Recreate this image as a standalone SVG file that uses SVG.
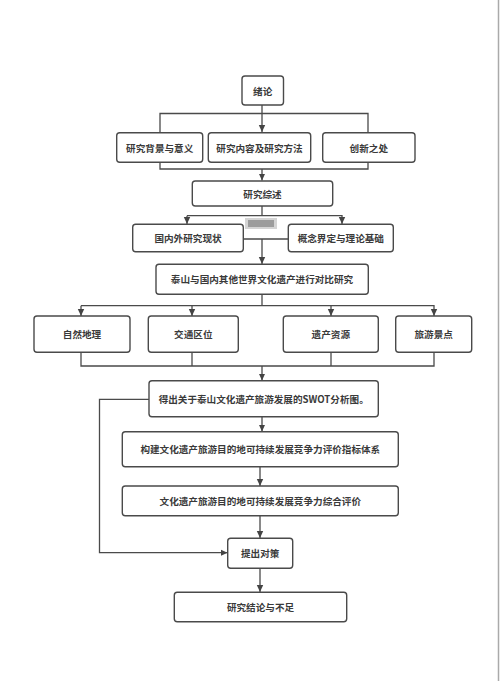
<svg xmlns="http://www.w3.org/2000/svg" width="500" height="681" viewBox="0 0 500 681">
<defs>
<marker id="ah" markerWidth="8" markerHeight="8" refX="7" refY="4" orient="auto" markerUnits="userSpaceOnUse">
<path d="M0,0.8 L7,4 L0,7.2 Z" fill="#444"/>
</marker>
<style>
.box{fill:#fff;stroke:#4a4a4a;stroke-width:1.4}
.t{font-family:"Noto Sans CJK SC","Noto Sans",sans-serif;font-size:9.6px;font-weight:bold;fill:#3a3a3a;text-anchor:middle;dominant-baseline:central}
.c{fill:none;stroke:#4a4a4a;stroke-width:1.3}
.a{marker-end:url(#ah)}
</style>
</defs>
<rect width="500" height="681" fill="#fff"/>
<line x1="498.5" y1="0" x2="498.5" y2="681" stroke="#aaa" stroke-width="1.5"/>
<g id="connectors">
<path class="c a" d="M262,105 V132"/>
<path class="c" d="M160,132.5 V113.5 H368 V132.5"/>
<path class="c" d="M160,162 V169 H368 V162"/>
<path class="c a" d="M262,169 V180.5"/>
<path class="c" d="M262,206 V215.7"/>
<path class="c a" d="M187,215.7 H342 V224"/>
<path class="c a" d="M187,215.7 V224"/>
<path class="c" d="M243.5,239 H288"/>
<path class="c a" d="M262,239 V264"/>
<path class="c" d="M262,294.5 V305.7"/>
<path class="c a" d="M81,305.7 H434 V316"/>
<path class="c a" d="M81,305.7 V316"/>
<path class="c a" d="M192,305.7 V316"/>
<path class="c a" d="M331,305.7 V316"/>
<path class="c" d="M81,352.5 V366 H434 V352.5"/>
<path class="c" d="M192,352.5 V366"/>
<path class="c" d="M331,352.5 V366"/>
<path class="c a" d="M262,366 V380.5"/>
<path class="c a" d="M262,417 V431.5"/>
<path class="c a" d="M260,467 V486"/>
<path class="c a" d="M260,516 V538"/>
<path class="c a" d="M149,399.3 H99.5 V552.7 H227.5"/>
<path class="c a" d="M260,568.5 V592"/>
</g>
<g id="artifact">
<rect x="245" y="218" width="32" height="11" fill="#d4d4d4"/>
<rect x="248" y="220" width="26" height="7" fill="#777" opacity="0.6"/>
</g>
<g id="n1"><rect class="box" x="242" y="76" width="41.5" height="29" rx="3"/><text class="t" x="262.7" y="90.5">绪论</text></g>
<g id="n2"><rect class="box" x="116.7" y="132.7" width="86" height="29.6" rx="3"/><text class="t" x="159.7" y="147.5">研究背景与意义</text></g>
<g id="n3"><rect class="box" x="208.3" y="132.7" width="102.4" height="29.6" rx="3"/><text class="t" x="259.5" y="147.5">研究内容及研究方法</text></g>
<g id="n4"><rect class="box" x="322.7" y="132.7" width="92.3" height="29.6" rx="3"/><text class="t" x="368.8" y="147.5">创新之处</text></g>
<g id="n5"><rect class="box" x="192.3" y="181" width="140.4" height="25" rx="3"/><text class="t" x="262.5" y="193.5">研究综述</text></g>
<g id="n6"><rect class="box" x="132.7" y="224.3" width="110.6" height="27.4" rx="3"/><text class="t" x="188" y="238">国内外研究现状</text></g>
<g id="n7"><rect class="box" x="288.3" y="224.3" width="105" height="27.4" rx="3"/><text class="t" x="340.8" y="238">概念界定与理论基础</text></g>
<g id="n8"><rect class="box" x="156" y="264.3" width="212.3" height="30" rx="3"/><text class="t" x="262" y="279.3">泰山与国内其他世界文化遗产进行对比研究</text></g>
<g id="n9"><rect class="box" x="34" y="316" width="96" height="36.3" rx="3"/><text class="t" x="82" y="334">自然地理</text></g>
<g id="n10"><rect class="box" x="148.3" y="316" width="90" height="36.3" rx="3"/><text class="t" x="193.3" y="334">交通区位</text></g>
<g id="n11"><rect class="box" x="283.3" y="316" width="95" height="36.3" rx="3"/><text class="t" x="330.8" y="334">遗产资源</text></g>
<g id="n12"><rect class="box" x="395.7" y="316" width="76" height="36.3" rx="3"/><text class="t" x="433.7" y="334">旅游景点</text></g>
<g id="n13"><rect class="box" x="149" y="380.7" width="229.3" height="36" rx="3"/><text class="t" x="263.7" y="398.7">得出关于泰山文化遗产旅游发展的SWOT分析图。</text></g>
<g id="n14"><rect class="box" x="122.3" y="431.7" width="276" height="35" rx="3"/><text class="t" x="260.3" y="449.2">构建文化遗产旅游目的地可持续发展竞争力评价指标体系</text></g>
<g id="n15"><rect class="box" x="122.3" y="486" width="276" height="29.7" rx="3"/><text class="t" x="260.3" y="500.8">文化遗产旅游目的地可持续发展竞争力综合评价</text></g>
<g id="n16"><rect class="box" x="227.7" y="538.3" width="65" height="30" rx="3"/><text class="t" x="260.2" y="553.3">提出对策</text></g>
<g id="n17"><rect class="box" x="174.3" y="592.3" width="172.4" height="29.4" rx="3"/><text class="t" x="260.5" y="607">研究结论与不足</text></g>
</svg>
